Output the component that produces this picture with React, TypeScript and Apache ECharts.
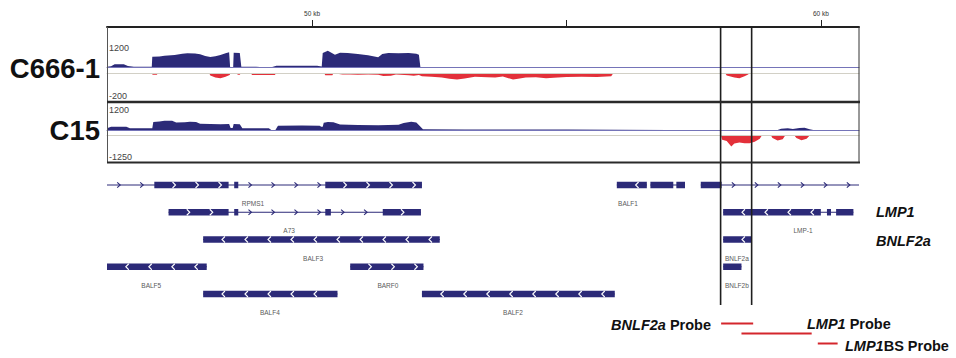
import React, { useEffect, useRef } from "react";
import * as echarts from "echarts";

// genome window (kb)
const KB_MIN = 45.97;
const KB_MAX = 60.75;
const rulerTicks = [50, 55, 60];
const rulerLabels = [50, 60];

// coverage, C666-1 (plus strand above, minus strand below)
const c666Plus: number[][] = [
  [45.97, 20], [46.05, 40], [46.12, 95], [46.3, 100], [46.38, 45], [46.5, 20], [46.85, 20],
  [46.86, 320], [47.0, 325], [47.1, 350], [47.3, 370], [47.45, 410], [47.55, 420], [47.7, 415],
  [47.8, 390], [47.9, 340], [48.0, 310], [48.1, 330], [48.2, 370], [48.3, 420], [48.37, 450],
  [48.39, 15], [48.45, 15], [48.46, 440], [48.58, 430], [48.61, 20], [48.9, 20], [49.05, 5],
  [49.2, 5], [49.3, 50], [49.7, 55], [50.1, 50], [50.19, 30], [50.21, 430], [50.31, 495],
  [50.38, 440], [50.45, 380], [50.55, 440], [50.7, 430], [50.9, 400], [51.1, 360], [51.3, 305],
  [51.38, 400], [51.5, 430], [51.7, 420], [51.9, 430], [52.05, 410], [52.1, 380], [52.13, 5],
  [52.3, 0], [60.75, 0],
];
const c666Minus: number[][] = [
  [45.97, 0], [46.84, 0], [46.87, -10], [46.95, -10], [46.97, 0], [47.98, 0], [48.0, -15],
  [48.1, -30], [48.2, -36], [48.3, -25], [48.38, -12], [48.4, 0], [48.52, 0], [48.54, -10],
  [48.58, -10], [48.6, 0], [48.8, 0], [48.82, -12], [49.27, -12], [49.29, 0], [50.24, 0],
  [50.26, -14], [50.4, -14], [50.42, 0], [50.6, -8], [50.75, -8], [50.9, -10], [51.1, -8],
  [51.3, -10], [51.4, -20], [51.55, -18], [51.65, -8], [51.9, -14], [52.0, -18], [52.1, -12],
  [52.16, -22], [52.35, -25], [52.55, -30], [52.7, -40], [52.85, -45], [53.0, -38], [53.2, -25],
  [53.45, -28], [53.6, -30], [53.75, -24], [53.95, -45], [54.05, -40], [54.2, -30], [54.4, -28],
  [54.6, -35], [54.75, -32], [55.0, -27], [55.3, -25], [55.6, -27], [55.88, -22], [55.92, 0],
  [58.12, 0], [58.15, -15], [58.3, -30], [58.4, -36], [58.5, -22], [58.57, -8], [58.6, 0],
  [60.75, 0],
];

// coverage, C15
const c15Plus: number[][] = [
  [45.97, 80], [46.05, 140], [46.35, 150], [46.42, 80], [46.86, 75], [46.88, 360], [47.0, 380],
  [47.1, 410], [47.25, 415], [47.33, 330], [47.5, 340], [47.6, 370], [47.72, 360], [47.8, 280],
  [48.0, 265], [48.2, 260], [48.37, 270], [48.4, 90], [48.44, 90], [48.46, 265], [48.58, 260],
  [48.63, 75], [49.15, 75], [49.2, 5], [49.28, 5], [49.33, 190], [49.8, 195], [50.15, 185],
  [50.18, 147], [50.21, 147], [50.23, 320], [50.31, 360], [50.42, 340], [50.55, 240],
  [50.9, 225], [51.3, 215], [51.7, 230], [51.8, 310], [51.95, 370], [52.05, 330], [52.18, 30],
  [53, 25], [55, 20], [56, 10], [57, 0], [59.15, 0], [59.22, 60], [59.35, 76], [59.45, 40],
  [59.58, 90], [59.68, 100], [59.78, 30], [59.85, 0], [60.75, 0],
];
const c15Minus: number[][] = [
  [45.97, 0], [58.04, 0], [58.06, -200], [58.15, -260], [58.24, -520], [58.3, -380],
  [58.4, -330], [58.5, -360], [58.6, -370], [58.7, -300], [58.8, -150], [58.84, 0],
  [59.02, 0], [59.05, -120], [59.15, -240], [59.25, -180], [59.3, 0], [59.48, 0],
  [59.52, -120], [59.62, -220], [59.72, -150], [59.78, 0], [60.75, 0],
];

// gene annotation ("" = unlabeled feature)
const geneNames = ["RPMS1", "BALF1", "", "", "A73", "LMP-1", "BALF3", "BNLF2a", "BALF5", "BARF0", "BNLF2b", "BALF4", "BALF2"];
const geneRows = [1, 1, 1, 1, 2, 2, 3, 3, 4, 4, 4, 5, 5];
const geneStrands = ["+", "-", "+", "+", "+", "-", "-", "-", "-", "+", "-", "-", "-"];
const geneSpans = [
  [45.97, 52.16], [55.99, 56.58], [56.65, 57.33], [57.64, 60.75], [47.18, 52.14], [58.08, 60.64],
  [47.86, 52.51], [58.08, 58.64], [45.97, 47.93], [50.75, 52.19], [58.08, 58.44], [47.86, 50.5],
  [52.16, 55.95],
];
const geneExons = [
  [[46.9, 48.36], [48.47, 48.55], [50.26, 52.16]],
  [[55.99, 56.58]],
  [[56.65, 57.1], [57.16, 57.33]],
  [[57.64, 58.05]],
  [[47.18, 48.36], [48.47, 48.55], [50.26, 50.37], [51.39, 52.14]],
  [[58.08, 60.0], [60.12, 60.2], [60.3, 60.64]],
  [[47.86, 52.51]],
  [[58.08, 58.64]],
  [[45.97, 47.93]],
  [[50.75, 52.19]],
  [[58.08, 58.44]],
  [[47.86, 50.5]],
  [[52.16, 55.95]],
];
const geneLabelKb = [48.84, 56.21, 0, 0, 49.55, 59.65, 50.02, 58.35, 46.84, 51.49, 58.35, 49.17, 53.95];

// highlighted region boundaries (kb)
const markerKb = [58.03, 58.64];

// probes
const probeNames = ["BNLF2a Probe", "LMP1 Probe", "LMP1BS Probe"];
const probeStart = [58.04, 58.44, 59.94];
const probeEnd = [58.67, 59.82, 60.33];

const BLUE = "#2c2a78";
const RED = "#e3303a";
const FONT = "'Liberation Sans', Arial, Helvetica, sans-serif";

function hiddenX(gridIndex: number) {
  return { type: "value", gridIndex, min: KB_MIN, max: KB_MAX, show: false };
}
function hiddenY(gridIndex: number, min: number, max: number, inverse = false) {
  return { type: "value", gridIndex, min, max, inverse, show: false };
}

function geneRender(params: any, api: any) {
  const i = params.dataIndex;
  const row = geneRows[i];
  const dir = geneStrands[i] === "+" ? 1 : -1;
  const y = api.coord([geneSpans[i][0], row])[1];
  const x0 = api.coord([geneSpans[i][0], row])[0];
  const x1 = api.coord([geneSpans[i][1], row])[0];
  const children: any[] = [];
  children.push({
    type: "line",
    shape: { x1: x0, y1: y, x2: x1, y2: y },
    style: { stroke: BLUE, lineWidth: 1 },
  });
  const chev = (cx: number, color: string, h: number) => ({
    type: "polyline",
    shape: { points: [[cx - 1.8 * dir, y - h], [cx + 1.2 * dir, y], [cx - 1.8 * dir, y + h]] },
    style: { stroke: color, fill: "none", lineWidth: 1.1 },
  });
  const ex = geneExons[i].map((e) => [api.coord([e[0], row])[0], api.coord([e[1], row])[0]]);
  const gaps: number[][] = [];
  let cur = x0;
  for (const [a, b] of ex) {
    if (a > cur) gaps.push([cur, a]);
    cur = Math.max(cur, b);
  }
  if (x1 > cur) gaps.push([cur, x1]);
  for (const [g0, g1] of gaps) {
    for (let cx = g0 + 12; cx < g1 - 6; cx += 23) children.push(chev(cx, BLUE, 2.6));
  }
  for (const [a, b] of ex) {
    children.push({
      type: "rect",
      shape: { x: a, y: y - 3.25, width: Math.max(b - a, 2), height: 6.5 },
      style: { fill: BLUE },
    });
    for (let cx = a + 20; cx < b - 3; cx += 23) children.push(chev(cx, "#ffffff", 3));
  }
  if (geneNames[i]) {
    const lx = api.coord([geneLabelKb[i], row])[0];
    children.push({
      type: "text",
      x: lx,
      y: y + 18.5,
      style: {
        text: geneNames[i],
        fill: "#5a5a5a",
        fontSize: 6.5,
        fontFamily: FONT,
        align: "center",
        verticalAlign: "middle",
      },
    });
  }
  return { type: "group", children };
}

function markerRender(params: any, api: any) {
  const k = api.value(0);
  const p0 = api.coord([k, 0]);
  const p1 = api.coord([k, 1]);
  return {
    type: "line",
    shape: { x1: p0[0], y1: p0[1], x2: p1[0], y2: p1[1] },
    style: { stroke: "#1e1e1e", lineWidth: 1.6 },
  };
}

function probeRender(params: any, api: any) {
  const p0 = api.coord([api.value(0), api.value(2)]);
  const p1 = api.coord([api.value(1), api.value(2)]);
  return {
    type: "line",
    shape: { x1: p0[0], y1: p0[1], x2: p1[0], y2: p1[1] },
    style: { stroke: "#d4262c", lineWidth: 2 },
  };
}

function txt(x: number, y: number, text: string, font: string, align: string, fill = "#111") {
  return {
    type: "text",
    x,
    y,
    z: 20,
    style: { text, font, fill, align, verticalAlign: "middle", textAlign: align, textVerticalAlign: "middle" },
  };
}

function richTxt(x: number, y: number, text: string, align: string) {
  return {
    type: "text",
    x,
    y,
    z: 20,
    style: {
      text,
      align,
      verticalAlign: "middle",
      rich: {
        i: { fontStyle: "italic", fontWeight: "bold", fontSize: 14.5, fontFamily: FONT, fill: "#111" },
        n: { fontWeight: "bold", fontSize: 14.5, fontFamily: FONT, fill: "#111" },
      },
    },
  };
}

function hline(x1: number, x2: number, y: number, color: string, w: number) {
  return { type: "line", z: 15, shape: { x1, y1: y, x2, y2: y }, style: { stroke: color, lineWidth: w } };
}
function vline(x: number, y1: number, y2: number, color: string, w: number) {
  return { type: "line", z: 15, shape: { x1: x, y1, x2: x, y2 }, style: { stroke: color, lineWidth: w } };
}

function baseAxis(gridIndex: number, position: string, color: string) {
  return {
    type: "value", gridIndex, position, min: KB_MIN, max: KB_MAX, z: 3,
    axisLine: { show: true, onZero: false, lineStyle: { color, width: 1 } },
    axisTick: { show: false }, axisLabel: { show: false }, splitLine: { show: false },
  };
}

function area(xAxisIndex: number, yAxisIndex: number, data: number[][], color: string) {
  return {
    type: "line", xAxisIndex, yAxisIndex, data, symbol: "none",
    lineStyle: { color, width: 0 }, areaStyle: { color, opacity: 1 },
  };
}

export default function App() {
  const ref = useRef<HTMLDivElement>(null);
  useEffect(() => {
    if (!ref.current) return;
    const chart = echarts.init(ref.current, null, { renderer: "svg" });
    const option: any = {
      animation: false,
      backgroundColor: "#ffffff",
      grid: [
        { left: 107, top: 27, width: 752, height: 40.5 },
        { left: 107, top: 73.3, width: 752, height: 27.7 },
        { left: 107, top: 103, width: 752, height: 27 },
        { left: 107, top: 135.5, width: 752, height: 26.5 },
        { left: 107, top: 157.75, width: 752, height: 163.5 },
        { left: 107, top: 27, width: 752, height: 278 },
        { left: 107, top: 318.5, width: 752, height: 30 },
      ],
      xAxis: [
        {
          type: "value", gridIndex: 0, position: "top", min: KB_MIN, max: KB_MAX,
          axisLine: { show: true, onZero: false, lineStyle: { color: "#222", width: 2 } },
          axisTick: { show: true, length: 7, customValues: rulerTicks, lineStyle: { color: "#222", width: 1 } },
          axisLabel: {
            show: true, customValues: rulerLabels, formatter: (v: number) => `${v} kb`,
            fontSize: 6.5, color: "#333", margin: 10, fontFamily: FONT,
          },
          splitLine: { show: false },
        },
        baseAxis(0, "bottom", "#7574b8"),
        baseAxis(1, "top", "#d2d0c6"),
        baseAxis(2, "bottom", "#7574b8"),
        baseAxis(3, "top", "#d2d0c6"),
        hiddenX(4),
        hiddenX(5),
        hiddenX(6),
      ],
      yAxis: [
        hiddenY(0, 0, 1200),
        hiddenY(1, -200, 0),
        hiddenY(2, 0, 1200),
        hiddenY(3, -1250, 0),
        hiddenY(4, 0, 6, true),
        hiddenY(5, 0, 1, true),
        hiddenY(6, -0.5, 2.5, true),
      ],
      series: [
        area(1, 0, c666Plus, BLUE),
        area(2, 1, c666Minus, RED),
        area(3, 2, c15Plus, BLUE),
        area(4, 3, c15Minus, RED),
        {
          type: "custom", xAxisIndex: 5, yAxisIndex: 4, renderItem: geneRender,
          encode: { x: [0, 1], y: 2 },
          data: geneSpans.map((s, i) => [s[0], s[1], geneRows[i]]),
          z: 5,
        },
        {
          type: "custom", xAxisIndex: 6, yAxisIndex: 5, renderItem: markerRender,
          encode: { x: 0, y: 1 },
          data: markerKb.map((k) => [k, 0]),
          z: 10,
        },
        {
          type: "custom", xAxisIndex: 7, yAxisIndex: 6, renderItem: probeRender,
          encode: { x: [0, 1], y: 2 },
          data: probeStart.map((s, i) => ({ name: probeNames[i], value: [s, probeEnd[i], i] })),
          z: 10,
        },
      ],
      graphic: [
        vline(107.5, 27, 102, "#555", 1),
        vline(859, 27, 162, "#333", 1),
        vline(107.5, 102, 162, "#555", 1),
        hline(107, 860, 102, "#2a2a2a", 2.5),
        hline(107, 860, 162.5, "#2a2a2a", 2),
        txt(100, 68, "C666-1", `bold 27.5px ${FONT}`, "right"),
        txt(100, 130, "C15", `bold 27.5px ${FONT}`, "right"),
        txt(109, 47.5, "1200", `9px ${FONT}`, "left", "#444"),
        txt(109, 96, "-200", `9px ${FONT}`, "left", "#444"),
        txt(109, 109.5, "1200", `9px ${FONT}`, "left", "#444"),
        txt(109, 157, "-1250", `9px ${FONT}`, "left", "#444"),
        txt(876, 212, "LMP1", `italic bold 14.5px ${FONT}`, "left"),
        txt(876, 241, "BNLF2a", `italic bold 14.5px ${FONT}`, "left"),
        richTxt(711, 324.5, "{i|BNLF2a}{n| Probe}", "right"),
        richTxt(807, 324, "{i|LMP1}{n| Probe}", "left"),
        richTxt(845, 345.5, "{i|LMP1}{n|BS Probe}", "left"),
      ],
    };
    chart.setOption(option);
    return () => chart.dispose();
  }, []);
  return (
    <div
      ref={ref}
      style={{ position: "absolute", left: 0, top: 0, width: 956, height: 358 }}
    />
  );
}
